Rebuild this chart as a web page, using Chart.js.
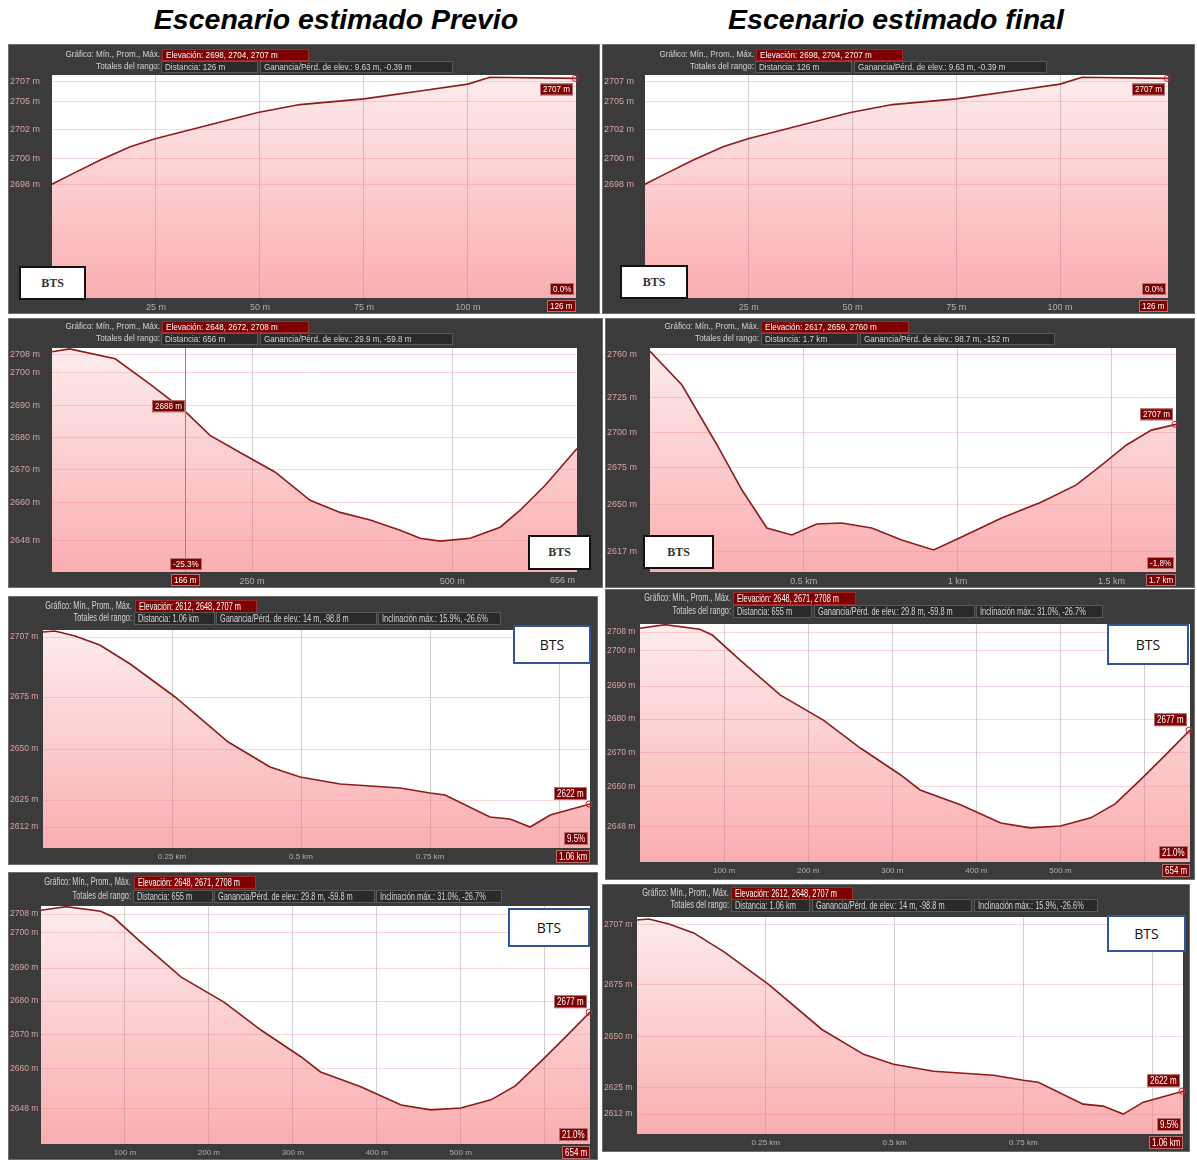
<!DOCTYPE html>
<html lang="es">
<head>
<meta charset="utf-8">
<title>Perfiles de elevación</title>
<script src="https://cdn.jsdelivr.net/npm/chart.js@4.4.1/dist/chart.umd.min.js"></script>
<style>
  body { margin:0; width:1197px; height:1160px; position:relative; overflow:hidden; background:#fff; font-family:"Liberation Sans", Arial, sans-serif; }
  .title { position:absolute; top:3px; transform:translateX(-50%); font:italic bold 28.5px "Liberation Sans", Arial, sans-serif; color:#000; white-space:nowrap; }
  .panel { position:absolute; background:#3b3b3b; box-shadow: inset 0 0 0 1px #6e6e6e; }
  .panel canvas { position:absolute; left:0; top:0; }
  .hd { position:absolute; color:#d4d4d4; white-space:nowrap; box-sizing:border-box; overflow:hidden; }
  .hd span { display:inline-block; transform-origin:left center; }
  .lb span { transform-origin:right center; }
  .lb { text-align:right; }
  .bx { background:#2a2a2a; border:1px solid #5a5a5a; padding-left:3px; }
  .bx.red { background:#7e0000; border-color:#a02a2a; color:#fff; }
  .bts { position:absolute; background:#fff; box-sizing:border-box; display:flex; align-items:center; justify-content:center; }
  .bts.v1 { border:2px solid #111; font:bold 12px "Liberation Serif", "DejaVu Serif", serif; color:#333; }
  .bts.v2 { border:2px solid #2f5597; font:14px "Open Sans", "Liberation Sans", sans-serif; color:#111; }
</style>
</head>
<body>
<div class="title" style="left:336px">Escenario estimado Previo</div>
<div class="title" style="left:896px">Escenario estimado final</div>

<script>
// Perfil 126 m (fila 1, igual en ambos escenarios)
const distA = [0, 4.3, 11.5, 18.8, 24.8, 35.6, 49.5, 59.6, 75, 88.5, 100, 105.3, 126];
const elevA = [2698.0, 2698.8, 2700.1, 2701.3, 2702.0, 2703.0, 2704.3, 2705.0, 2705.5, 2706.2, 2706.8, 2707.4, 2707.3];
const yTickValA = [2707, 2705.25, 2702.8, 2700.27, 2698];
const yTickLblA = ['2707 m', '2705 m', '2702 m', '2700 m', '2698 m'];
const xTickValA = [25, 50, 75, 100];
const xTickLblA = ['25 m', '50 m', '75 m', '100 m'];

// Perfil 656 m (fila 2, escenario previo)
const distC = [0, 22, 79, 122, 165, 197.5, 235, 279, 322.5, 360, 397.5, 435, 460, 485, 522.5, 560, 585, 616, 656];
const elevC = [2709.0, 2709.9, 2706.7, 2698.6, 2690.0, 2681.9, 2676.4, 2670.0, 2660.9, 2657.0, 2654.5, 2651.2, 2648.6, 2647.7, 2648.6, 2652.2, 2657.7, 2665.7, 2677.7];
const yTickValC = [2708, 2702.2, 2691.5, 2681.2, 2670.9, 2660.3, 2648];
const yTickLblC = ['2708 m', '2700 m', '2690 m', '2680 m', '2670 m', '2660 m', '2648 m'];
const xTickValC = [250, 500];
const xTickLblC = ['250 m', '500 m'];

// Perfil 1.7 km (fila 2, escenario final)
const distD = [0, 0.104, 0.218, 0.299, 0.38, 0.461, 0.542, 0.623, 0.721, 0.818, 0.922, 1.013, 1.143, 1.273, 1.386, 1.468, 1.549, 1.63, 1.71];
const elevD = [2762, 2737.5, 2694, 2661.3, 2633.7, 2628.7, 2636.6, 2637.4, 2633.7, 2625, 2617.8, 2627.2, 2641, 2652.6, 2665, 2679.4, 2694, 2704.8, 2709];
const yTickValD = [2760, 2728.8, 2702.7, 2677.3, 2651.1, 2617];
const yTickLblD = ['2760 m', '2725 m', '2700 m', '2675 m', '2650 m', '2617 m'];
const xTickValD = [0.5, 1, 1.5];
const xTickLblD = ['0.5 km', '1 km', '1.5 km'];

// Perfil 1.06 km (fila 3 izq., fila 4 der.)
const distE = [0, 0.023, 0.062, 0.11, 0.169, 0.256, 0.359, 0.44, 0.498, 0.576, 0.692, 0.75, 0.779, 0.866, 0.905, 0.944, 0.983, 1.06];
const elevE = [2709.5, 2710, 2707.5, 2703, 2693.5, 2677, 2654.5, 2642, 2637, 2633.5, 2631.5, 2629, 2628, 2617, 2616, 2612, 2618, 2623.5];
const yTickValE = [2707, 2677, 2651, 2625.5, 2612];
const yTickLblE = ['2707 m', '2675 m', '2650 m', '2625 m', '2612 m'];
const xTickValE = [0.25, 0.5, 0.75, 1];
const xTickLblE = ['0.25 km', '0.5 km', '0.75 km', ''];

// Perfil 654 m (fila 3 der., fila 4 izq.)
const distF = [0, 30, 71, 86, 119, 167, 218, 262, 310, 333, 381, 429, 464, 500, 536, 565, 595, 625, 654];
const elevF = [2709.2, 2710.3, 2708.9, 2707.1, 2699.4, 2688.6, 2680.9, 2672.3, 2664.0, 2659.4, 2654.8, 2649.2, 2647.7, 2648.3, 2650.8, 2655.1, 2662.5, 2670.2, 2677.8];
const yTickValF = [2708, 2702.2, 2691.4, 2681.2, 2670.8, 2660.3, 2648];
const yTickLblF = ['2708 m', '2700 m', '2690 m', '2680 m', '2670 m', '2660 m', '2648 m'];
const xTickValF = [100, 200, 300, 400, 500, 600];
const xTickLblF = ['100 m', '200 m', '300 m', '400 m', '500 m', ''];

const hdrA = ['Elevación: 2698, 2704, 2707 m', 'Distancia: 126 m', 'Ganancia/Pérd. de elev.: 9.63 m, -0.39 m'];
const hdrC = ['Elevación: 2648, 2672, 2708 m', 'Distancia: 656 m', 'Ganancia/Pérd. de elev.: 29.9 m, -59.8 m'];
const hdrD = ['Elevación: 2617, 2659, 2760 m', 'Distancia: 1.7 km', 'Ganancia/Pérd. de elev.: 98.7 m, -152 m'];
const hdrE = ['Elevación: 2612, 2648, 2707 m', 'Distancia: 1.06 km', 'Ganancia/Pérd. de elev.: 14 m, -98.8 m', 'Inclinación máx.: 15.9%, -26.6%'];
const hdrF = ['Elevación: 2648, 2671, 2708 m', 'Distancia: 655 m', 'Ganancia/Pérd. de elev.: 29.8 m, -59.8 m', 'Inclinación máx.: 31.0%, -26.7%'];

// small = filas 1-2 (captura más pequeña), big = filas 3-4
const small = {hFont: 9, hSx: 0.9, yFont: 9, xFont: 9, tagFont: 9, tagSx: 0.9, tagH: 12};
const big = {hFont: 10, hSx: 0.74, yFont: 8.5, xFont: 8, tagFont: 10, tagSx: 0.8, tagH: 13};

const panels = [
  {frame:[8,44,592,270], plot:[52,75,576,298], st:small, dist:distA, elev:elevA, y:[2688.0,2707.6],
   yv:yTickValA, yl:yTickLblA, xMax:126, xv:xTickValA, xl:xTickLblA, hdr:hdrA,
   rows:[49,61], lbR:160, cols:[[162,309],[161,258],[260,453]],
   mark:{endLabel:'2707 m', below:true, grade:'0.0%', dist:'126 m'}, bts:[19,266,67,34,'v1']},
  {frame:[602,44,593,270], plot:[645,75,1168,298], st:small, dist:distA, elev:elevA, y:[2688.0,2707.6],
   yv:yTickValA, yl:yTickLblA, xMax:126, xv:xTickValA, xl:xTickLblA, hdr:hdrA,
   rows:[49,61], lbR:754, cols:[[756,903],[755,852],[854,1047]],
   mark:{endLabel:'2707 m', below:true, grade:'0.0%', dist:'126 m'}, bts:[620,265,68,34,'v1']},
  {frame:[8,318,595,270], plot:[52,348,577,572], st:small, dist:distC, elev:elevC, y:[2637.7,2710.2],
   yv:yTickValC, yl:yTickLblC, xMax:656, xv:xTickValC, xl:xTickLblC, hdr:hdrC,
   rows:[321,333], lbR:160, cols:[[162,309],[161,258],[260,453]],
   mark:{distPlain:'656 m', cursor:{x:166, elev:'2688 m', grade:'-25.3%', dist:'166 m'}}, bts:[528,535,63,35,'v1']},
  {frame:[605,318,590,270], plot:[650,348,1176,572], st:small, dist:distD, elev:elevD, y:[2601.8,2764.4],
   yv:yTickValD, yl:yTickLblD, xMax:1.71, xv:xTickValD, xl:xTickLblD, hdr:hdrD,
   rows:[321,333], lbR:759, cols:[[761,909],[761,858],[860,1055]],
   mark:{endLabel:'2707 m', grade:'-1.8%', dist:'1.7 km'}, bts:[643,535,71,34,'v1']},
  {frame:[8,596,590,269], plot:[43,630,590,848], st:big, dist:distE, elev:elevE, y:[2601.5,2710.5],
   yv:yTickValE, yl:yTickLblE, xMax:1.06, xv:xTickValE, xl:xTickLblE, hdr:hdrE,
   rows:[600,612], lbR:132, cols:[[135,257],[134,215],[216,377],[378,501]],
   mark:{endLabel:'2622 m', grade:'9.5%', dist:'1.06 km'}, bts:[513,625,78,39,'v2']},
  {frame:[605,589,590,291], plot:[640,624,1190,862], st:big, dist:distF, elev:elevF, y:[2637.2,2710.5],
   yv:yTickValF, yl:yTickLblF, xMax:654, xv:xTickValF, xl:xTickLblF, hdr:hdrF,
   rows:[592,605], lbR:731, cols:[[733,856],[733,812],[814,975],[976,1103]],
   mark:{endLabel:'2677 m', grade:'21.0%', dist:'654 m'}, bts:[1107,624,82,41,'v2']},
  {frame:[8,872,590,288], plot:[41,906,590,1144], st:big, dist:distF, elev:elevF, y:[2637.2,2710.5],
   yv:yTickValF, yl:yTickLblF, xMax:654, xv:xTickValF, xl:xTickLblF, hdr:hdrF,
   rows:[876,890], lbR:131, cols:[[134,256],[133,213],[214,375],[376,502]],
   mark:{endLabel:'2677 m', grade:'21.0%', dist:'654 m'}, bts:[508,908,82,39,'v2']},
  {frame:[602,884,588,268], plot:[637,917,1183,1134], st:big, dist:distE, elev:elevE, y:[2602,2711],
   yv:yTickValE, yl:yTickLblE, xMax:1.06, xv:xTickValE, xl:xTickLblE, hdr:hdrE,
   rows:[887,899], lbR:729, cols:[[731,853],[731,810],[812,972],[974,1098]],
   mark:{endLabel:'2622 m', grade:'9.5%', dist:'1.06 km'}, bts:[1107,915,79,37,'v2']}
];

function tag(ctx, st, text, x, y, anchor) {
  ctx.save();
  ctx.font = st.tagFont + 'px "Liberation Sans", Arial, sans-serif';
  const w = Math.round(ctx.measureText(text).width * st.tagSx + 6);
  const h = st.tagH;
  const left = Math.round(anchor === 'right' ? x - w : x - w / 2);
  ctx.fillStyle = '#7e0000';
  ctx.fillRect(left, y, w, h);
  ctx.strokeStyle = 'rgba(210,190,190,0.6)';
  ctx.lineWidth = 1;
  ctx.strokeRect(left + 0.5, y + 0.5, w - 1, h - 1);
  ctx.fillStyle = '#fff';
  ctx.textBaseline = 'middle';
  ctx.translate(left + 3, y + h / 2 + 0.5);
  ctx.scale(st.tagSx, 1);
  ctx.fillText(text, 0, 0);
  ctx.restore();
}

function elevAt(d, e, v) {
  for (let i = 1; i < d.length; i++) {
    if (v <= d[i]) return e[i - 1] + (e[i] - e[i - 1]) * (v - d[i - 1]) / (d[i] - d[i - 1]);
  }
  return e[e.length - 1];
}

const geMarks = {
  id: 'geMarks',
  beforeDraw(chart) {
    const {ctx, chartArea: a} = chart;
    ctx.save();
    ctx.fillStyle = '#fff';
    ctx.fillRect(a.left, a.top, a.right - a.left, a.bottom - a.top);
    ctx.restore();
  },
  afterDatasetsDraw(chart, args, o) {
    const {ctx, chartArea: a, scales: {x, y}} = chart;
    const st = o.st, m = o.mark;
    const d = o.dist, e = o.elev;
    const px = x.getPixelForValue(d[d.length - 1]);
    const py = y.getPixelForValue(e[e.length - 1]);
    if (m.endLabel) {
      ctx.save();
      ctx.strokeStyle = '#e02020';
      ctx.lineWidth = 1;
      ctx.beginPath(); ctx.arc(px - 1, py, 3, 0, Math.PI * 2); ctx.stroke();
      ctx.restore();
      const top = m.below ? py + 5 : py - 4 - st.tagH;
      tag(ctx, st, m.endLabel, a.right - 3, top, 'right');
    }
    if (m.grade) tag(ctx, st, m.grade, a.right - 2, a.bottom - 3 - st.tagH, 'right');
    if (m.dist) tag(ctx, st, m.dist, a.right, a.bottom + 2, 'right');
    if (m.distPlain) {
      ctx.save();
      ctx.font = st.xFont + 'px "Liberation Sans", Arial, sans-serif';
      ctx.fillStyle = '#b4b4b4';
      ctx.textAlign = 'right';
      ctx.textBaseline = 'top';
      ctx.fillText(m.distPlain, a.right - 2, a.bottom + 4);
      ctx.restore();
    }
    if (m.cursor) {
      const cx = Math.round(x.getPixelForValue(m.cursor.x)) + 0.5;
      ctx.save();
      ctx.strokeStyle = '#8a8a8a';
      ctx.lineWidth = 1;
      ctx.beginPath(); ctx.moveTo(cx, a.top); ctx.lineTo(cx, a.bottom); ctx.stroke();
      ctx.restore();
      const cy = y.getPixelForValue(elevAt(d, e, m.cursor.x));
      tag(ctx, st, m.cursor.elev, cx - 1, cy - st.tagH + 1, 'right');
      tag(ctx, st, m.cursor.grade, cx, a.bottom - 2 - st.tagH, 'center');
      tag(ctx, st, m.cursor.dist, cx, a.bottom + 2, 'center');
    }
  }
};

function addHeader(p) {
  const st = p.st;
  const h = st.hFont + 3;
  const mk = (cls, l, t, w, text) => {
    const el = document.createElement('div');
    el.className = 'hd ' + cls;
    el.style.cssText = `left:${l}px;top:${t}px;width:${w}px;height:${h}px;line-height:${h - 2}px;font-size:${st.hFont}px;`;
    const s = document.createElement('span');
    s.style.transform = `scaleX(${st.hSx})`;
    s.textContent = text;
    el.appendChild(s);
    document.body.appendChild(el);
  };
  mk('lb', p.lbR - 200, p.rows[0], 200, 'Gráfico: Mín., Prom., Máx.');
  mk('lb', p.lbR - 200, p.rows[1], 200, 'Totales del rango:');
  mk('bx red', p.cols[0][0], p.rows[0], p.cols[0][1] - p.cols[0][0], p.hdr[0]);
  for (let i = 1; i < p.hdr.length; i++) {
    mk('bx', p.cols[i][0], p.rows[1], p.cols[i][1] - p.cols[i][0], p.hdr[i]);
  }
}

panels.forEach((p) => {
  const [fx, fy, fw, fh] = p.frame;
  const [pl, pt, pr, pb] = p.plot;
  const div = document.createElement('div');
  div.className = 'panel';
  div.style.cssText = `left:${fx}px;top:${fy}px;width:${fw}px;height:${fh}px;`;
  const cv = document.createElement('canvas');
  cv.width = fw; cv.height = fh;
  cv.style.width = fw + 'px'; cv.style.height = fh + 'px';
  div.appendChild(cv);
  document.body.appendChild(div);
  addHeader(p);

  const b = document.createElement('div');
  b.className = 'bts ' + p.bts[4];
  b.style.cssText = `left:${p.bts[0]}px;top:${p.bts[1]}px;width:${p.bts[2]}px;height:${p.bts[3]}px;`;
  b.textContent = 'BTS';
  document.body.appendChild(b);

  const fontY = {family: '"Liberation Sans", Arial, sans-serif', size: p.st.yFont};
  const fontX = {family: '"Liberation Sans", Arial, sans-serif', size: p.st.xFont};

  new Chart(cv, {
    type: 'line',
    data: {
      datasets: [{
        data: p.dist.map((v, i) => ({x: v, y: p.elev[i]})),
        borderColor: '#8e1a1a',
        borderWidth: 1.6,
        pointRadius: 0,
        tension: 0,
        fill: 'start',
        backgroundColor: (c) => {
          const area = c.chart.chartArea;
          if (!area) return 'rgba(245,120,125,0.3)';
          const g = c.chart.ctx.createLinearGradient(0, area.top, 0, area.bottom);
          g.addColorStop(0, 'rgba(245,120,125,0.14)');
          g.addColorStop(1, 'rgba(245,120,125,0.6)');
          return g;
        }
      }]
    },
    options: {
      responsive: false,
      animation: false,
      devicePixelRatio: 1,
      layout: {padding: {left: 2, top: pt - fy, right: fx + fw - pr, bottom: 0}},
      plugins: {
        legend: {display: false},
        tooltip: {enabled: false},
        geMarks: {st: p.st, mark: p.mark, dist: p.dist, elev: p.elev}
      },
      scales: {
        x: {
          type: 'linear', min: 0, max: p.xMax,
          afterFit(s) { s.height = fy + fh - pb; },
          afterBuildTicks(s) { s.ticks = p.xv.map((v) => ({value: v})); },
          ticks: {callback: (v, i) => p.xl[i], color: '#b0b0b0', font: fontX, padding: 4, maxRotation: 0, autoSkip: false},
          grid: {color: 'rgba(150,150,150,0.45)', drawTicks: false, tickLength: 0},
          border: {display: false}
        },
        y: {
          min: p.y[0], max: p.y[1],
          afterFit(s) { s.width = pl - fx - 2; },
          afterBuildTicks(s) { s.ticks = p.yv.map((v) => ({value: v})); },
          ticks: {callback: (v, i) => p.yl[i], color: '#d8a4a4', font: fontY, crossAlign: 'far', padding: 0, autoSkip: false},
          grid: {color: 'rgba(245,140,140,0.35)', drawTicks: false, tickLength: 0},
          border: {display: false}
        }
      }
    },
    plugins: [geMarks]
  });
});
</script>
</body>
</html>
